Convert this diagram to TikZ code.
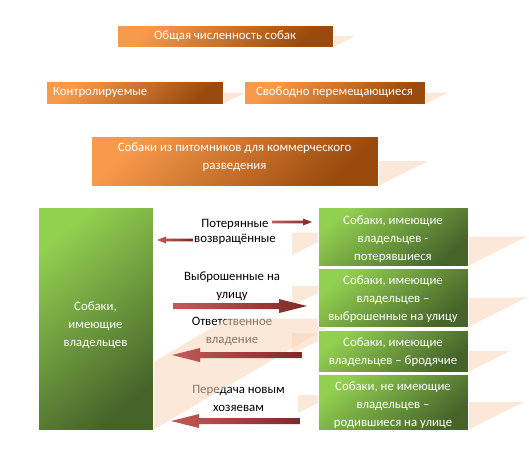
\documentclass[tikz,border=0pt]{standalone}
\usepackage{fontspec}
\setmainfont{Carlito}
\usetikzlibrary{calc}
\pgfdeclarelayer{bottom}
\pgfdeclarelayer{background}
\pgfdeclarelayer{labels}
\pgfdeclarelayer{veil}
\pgfsetlayers{bottom,background,labels,veil,main}
\definecolor{shadowc}{HTML}{FAD6BB}
\definecolor{orlight}{HTML}{F79A4C}
\definecolor{ordark}{HTML}{9A4A0C}
\definecolor{grlight}{HTML}{92D050}
\definecolor{grdark}{HTML}{46632A}
\definecolor{arlight}{HTML}{C45A57}
\definecolor{ardark}{HTML}{7E2A28}
% #1 node, #2 layer, #3 factor of horizontal throw
\newcommand\castshadow[3]{%
  \begin{pgfonlayer}{#2}
  \fill[shadowc, fill opacity=0.55] let \p1=(#1.north), \p2=(#1.south) in
    (#1.south west) -- (#1.south east) -- ($(#1.east)+({#3*(\y1-\y2)},0pt)$)
    -- ($(#1.west)+({#3*(\y1-\y2)},0pt)$) -- cycle;
  \end{pgfonlayer}}
\newcommand\flatarrow[5]{% tail, tip, shaft half, head half, head length
  \coordinate (#1-h) at ($(#2)!#5!(#1)$);
  \shade[arrowshade]
    ($(#1)!#3!90:(#2)$) -- ($(#1-h)!#3!90:(#2)$) -- ($(#1-h)!#4!90:(#2)$)
    -- (#2) -- ($(#1-h)!#4!-90:(#2)$) -- ($(#1-h)!#3!-90:(#2)$)
    -- ($(#1)!#3!-90:(#2)$) -- cycle;}
\tikzset{
  txt/.style={font=\fontsize{12.8}{18}\selectfont, align=center, inner sep=0pt},
  obox/.style={draw=white, line width=0.8pt, inner sep=0pt, outer sep=0pt,
    shading=axis, top color=orlight, bottom color=ordark, shading angle=45,
    text=white, font=\fontsize{12.8}{18}\selectfont, align=center},
  gbox/.style={draw=white, line width=0.8pt, inner sep=0pt, outer sep=0pt,
    shading=axis, top color=grlight, bottom color=grdark, shading angle=40,
    text=white, font=\fontsize{12.8}{18}\selectfont, align=center},
  lbox/.style={fill=white, inner sep=0pt, outer sep=0pt},
  arrowshade/.style={left color=arlight, right color=ardark},
}
\begin{document}
\begin{tikzpicture}[x=1pt,y=-1pt]
\begin{pgfonlayer}{bottom}
\fill[white] (0,0) rectangle (529,455);
\end{pgfonlayer}
\useasboundingbox (0,0) rectangle (529,455);

% orange boxes
\node[obox, minimum width=216pt, minimum height=22pt] (tot) at (225,36) {Общая численность собак};
\node[obox, minimum width=177pt, minimum height=23pt] (ctrl) at (134.5,92.5) {};
\node[txt, text=white, anchor=west] (ctrlt) at (53,92.5) {Контролируемые};
\node[obox, minimum width=181pt, minimum height=23pt] (free) at (334.5,92.5) {Свободно перемещающиеся};
\node[obox, minimum width=287pt, minimum height=50pt] (kennel) at (234.5,161) {};
\node[txt, text=white] (kennelt) at (234.5,157) {Собаки из питомников для коммерческого\\разведения};

% label boxes (white, with shadows) and their texts
\begin{pgfonlayer}{labels}
\node[lbox, minimum width=132pt, minimum height=45pt] (l1) at (226,232.5) {};
\node[lbox, minimum width=132pt, minimum height=40pt] (l2) at (226,286) {};
\node[lbox, minimum width=132pt, minimum height=42pt] (l3) at (226,333) {};
\node[lbox, minimum width=138pt, minimum height=36pt] (l4) at (229,395) {};
\node[txt] (t1) at (235,224) {Потерянные};
\node[txt] (t2) at (235,239) {возвращённые};
\node[txt] (t3) at (232,286) {Выброшенные на\\улицу};
\node[txt] (t4) at (232,331.5) {Ответственное\\владение};
\node[txt] (t5) at (238.5,398) {Передача новым\\хозяевам};
\end{pgfonlayer}

% green boxes
\node[gbox, minimum width=115pt, minimum height=223pt] (own) at (95.5,318.5) {};
\node[txt, text=white] (ownt) at (95.5,325) {Собаки,\\имеющие\\владельцев};
\node[gbox, minimum width=150pt, minimum height=59pt] (r1) at (393,236.5) {};
\node[txt, text=white] (r1t) at (393,239) {Собаки, имеющие\\владельцев -\\потерявшиеся};
\node[gbox, minimum width=150pt, minimum height=59pt] (r2) at (393,297.5) {};
\node[txt, text=white] (r2t) at (393,299) {Собаки, имеющие\\владельцев –\\выброшенные на улицу};
\node[gbox, minimum width=150pt, minimum height=42pt] (r3) at (393,351) {};
\node[txt, text=white] (r3t) at (393,352) {Собаки, имеющие\\владельцев – бродячие};
\node[gbox, minimum width=150pt, minimum height=56pt] (r4) at (393,402) {};
\node[txt, text=white] (r4t) at (393,405) {Собаки, не имеющие\\владельцев –\\родившиеся на улице};
\fill[white] (r4.south west) rectangle ($(r4.south east)+(0,8)$);

\foreach \bx in {tot,ctrl,free,kennel,r1,r2,r3,r4,l1,l2,l3,l4} {\castshadow{\bx}{background}{1}}
\castshadow{own}{veil}{0.85}

% arrows
\coordinate (a1s) at (272,222); \coordinate (a1e) at (312,222);
\coordinate (a2s) at (193,240); \coordinate (a2e) at (157,240);
\coordinate (a3s) at (173,306); \coordinate (a3e) at (307,306);
\coordinate (a4s) at (302,355); \coordinate (a4e) at (172,355);
\coordinate (a5s) at (300,421); \coordinate (a5e) at (171,421);
\flatarrow{a1s}{a1e}{1.3pt}{3.5pt}{9pt}
\flatarrow{a2s}{a2e}{1.3pt}{3.5pt}{9pt}
\flatarrow{a3s}{a3e}{3pt}{7pt}{28pt}
\flatarrow{a4s}{a4e}{3pt}{7pt}{28pt}
\flatarrow{a5s}{a5e}{3pt}{7pt}{28pt}
\end{tikzpicture}
\end{document}
